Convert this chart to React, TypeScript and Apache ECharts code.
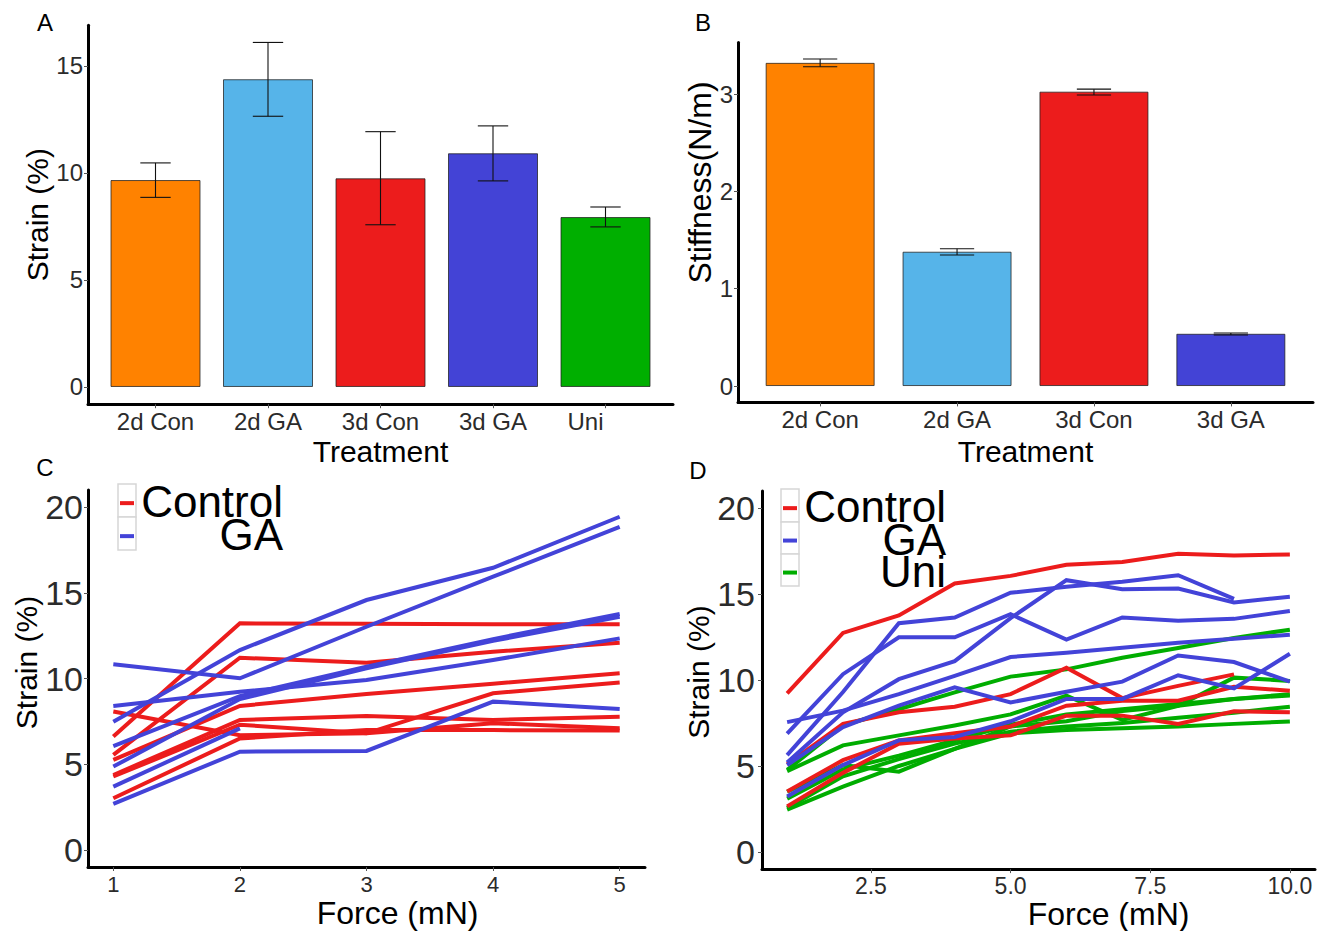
import React, { useEffect, useRef } from "react";
import * as echarts from "echarts";

// ---------- Panel A data ----------
const categoriesA = ["2d Con", "2d GA", "3d Con", "3d GA", "Uni"];
const strainMean = [9.67, 14.38, 9.75, 10.92, 7.94];
const strainLower = [8.86, 12.65, 7.58, 9.63, 7.48];
const strainUpper = [10.47, 16.1, 11.93, 12.2, 8.41];
const strainTicks = [0, 5, 10, 15];

// ---------- Panel B data ----------
const categoriesB = ["2d Con", "2d GA", "3d Con", "3d GA"];
const stiffMean = [3.32, 1.38, 3.024, 0.537];
const stiffLower = [3.28, 1.346, 2.99, 0.524];
const stiffUpper = [3.36, 1.41, 3.05, 0.545];
const stiffTicks = [0, 1, 2, 3];

// ---------- Panel C data ----------
const forceC = [1, 2, 3, 4, 5];
const controlC: (number | null)[][] = [
  [6.61, 13.22, 13.19, 13.16, 13.16],
  [5.54, 11.21, 10.92, 11.56, 12.09],
  [5.25, 8.4, 9.1, 9.7, 10.3],
  [4.37, 7.58, 7.81, 7.58, 7.77],
  [8.07, 6.69, 6.8, 7.39, 7.1],
  [4.28, 7.3, 6.8, 9.14, 9.76],
  [3.01, 6.5, 6.99, 6.99, 6.96],
];
const gaC: (number | null)[][] = [
  [10.83, 10.01, 13.02, 15.94, 18.85],
  [7.48, 11.66, 14.58, 16.46, 19.44],
  [8.4, 9.23, 9.91, 11.08, 12.34],
  [6.06, 8.97, 10.69, 12.3, 13.76],
  [4.86, 8.8, 10.6, 12.2, 13.6],
  [3.69, 7.09, null, null, null],
  [2.68, 5.73, 5.77, 8.65, 8.22],
];
const strainLineTicks = [0, 5, 10, 15, 20];

// ---------- Panel D data ----------
const forceD = [1, 2, 3, 4, 5, 6, 7, 8, 9, 10];
const forceDTicks = [2.5, 5, 7.5, 10];
const controlD: (number | null)[][] = [
  [9.22, 12.74, 13.76, 15.62, 16.06, 16.71, 16.87, 17.35, 17.25, 17.31],
  [5.1, 7.45, 8.13, 8.45, 9.18, 10.72, 8.95, 9.66, 10.33, null],
  [3.52, 5.34, 6.49, 6.9, 7.3, 8.51, 8.8, 8.8, 9.61, 9.38],
  [2.65, 4.6, 6.3, 6.6, 6.78, 7.93, 7.93, 7.45, 8.18, 8.12],
];
const gaD: (number | null)[][] = [
  [5.63, 9.3, 13.31, 13.64, 15.08, 15.43, 15.72, 16.1, 14.72, null],
  [5.2, 8.12, 10.05, 11.1, 13.6, 15.81, 15.29, 15.33, 14.52, 14.85],
  [7.55, 8.22, 9.18, 10.24, 11.34, 11.59, 11.88, 12.17, 12.4, 12.64],
  [5.05, 7.26, 8.51, 9.57, 8.7, 9.32, 9.91, 11.43, 11.05, 9.91],
  [3.23, 5.05, 6.49, 6.69, 7.6, 8.9, 8.9, 10.28, 9.51, 11.53],
  [6.88, 10.34, 12.49, 12.49, 13.83, 12.35, 13.64, 13.45, 13.56, 14.02],
];
const uniD: (number | null)[][] = [
  [4.7, 6.2, 6.78, 7.36, 8.0, 9.09, 7.68, 8.5, 10.14, 9.95],
  [4.77, 7.36, 8.3, 9.28, 10.2, 10.62, 11.3, 11.87, 12.45, 12.93],
  [3.5, 5.05, 4.67, 6.0, 7.3, 7.6, 8.2, 8.5, 8.9, 9.18],
  [3.1, 4.8, 5.6, 6.5, 7.4, 8.0, 8.3, 8.6, 8.9, 9.1],
  [2.55, 4.4, 5.4, 6.3, 7.0, 7.3, 7.5, 7.8, 8.1, 8.45],
  [2.46, 3.8, 5.0, 6.0, 6.9, 7.1, 7.2, 7.3, 7.45, 7.59],
];

// ---------- styling ----------
const FONT = "Liberation Sans, Arial, sans-serif";
const barColors = ["#FF8200", "#56B4E9", "#EC1C1C", "#4343D6", "#00AF00"];
const RED = "#EC1C1C";
const BLUE = "#4343D8";
const GREEN = "#00AD00";
const TEXT = "#2b2b2b";

function makeX(gridIndex: number, min: number, max: number, ticks: number[], fmt: (v: number) => string, fontSize: number, margin: number, name: string, nameGap: number, nameFont: number, namePadLeft = 0, rich: any = undefined) {
  return {
    type: "value",
    gridIndex,
    min,
    max,
    name,
    nameLocation: "middle",
    nameGap,
    nameTextStyle: { fontFamily: FONT, fontSize: nameFont, color: "#000", padding: [0, 0, 0, namePadLeft] },
    axisLine: { show: true, onZero: false, lineStyle: { color: "#000", width: 3 } },
    axisTick: { show: true, length: 4, customValues: ticks, lineStyle: { color: "#555", width: 1 } },
    axisLabel: { customValues: ticks, formatter: fmt, fontFamily: FONT, fontSize, color: TEXT, margin, rich },
    splitLine: { show: false },
  };
}

function makeY(gridIndex: number, min: number, max: number, ticks: number[], fontSize: number, margin: number, name: string, nameGap: number, nameFont: number, shiftUp = 0) {
  return {
    type: "value",
    gridIndex,
    min,
    max,
    name,
    nameLocation: "middle",
    nameGap,
    nameRotate: 90,
    nameTextStyle: { fontFamily: FONT, fontSize: nameFont, color: "#000", padding: [0, 0, 0, shiftUp * 2] },
    axisLine: { show: true, onZero: false, lineStyle: { color: "#000", width: 3 } },
    axisTick: { show: true, length: 4, customValues: ticks, lineStyle: { color: "#555", width: 1 } },
    axisLabel: { customValues: ticks, formatter: (v: number) => String(v), fontFamily: FONT, fontSize, color: TEXT, margin },
    splitLine: { show: false },
  };
}

function errorSeries(xi: number, yi: number, lower: number[], upper: number[], capW: number) {
  return {
    type: "custom",
    xAxisIndex: xi,
    yAxisIndex: yi,
    z: 5,
    encode: { x: 0, y: [1, 2] },
    data: lower.map((lo, i) => [i + 1, lo, upper[i]]),
    renderItem: (params: any, api: any) => {
      const x = api.value(0);
      const pLo = api.coord([x, api.value(1)]);
      const pHi = api.coord([x, api.value(2)]);
      const half = api.size([capW, 0])[0] / 2;
      const st = { stroke: "#111", lineWidth: 1.1 };
      return {
        type: "group",
        children: [
          { type: "line", shape: { x1: pLo[0], y1: pLo[1], x2: pHi[0], y2: pHi[1] }, style: st },
          { type: "line", shape: { x1: pLo[0] - half, y1: pLo[1], x2: pLo[0] + half, y2: pLo[1] }, style: st },
          { type: "line", shape: { x1: pHi[0] - half, y1: pHi[1], x2: pHi[0] + half, y2: pHi[1] }, style: st },
        ],
      };
    },
  };
}

function lineSeries(name: string, xs: number[], ys: (number | null)[], color: string, xi: number, yi: number) {
  const data: number[][] = [];
  ys.forEach((v, i) => {
    if (v !== null) data.push([xs[i], v]);
  });
  return {
    type: "line",
    name,
    xAxisIndex: xi,
    yAxisIndex: yi,
    data,
    showSymbol: false,
    symbol: "none",
    lineStyle: { color, width: 4, cap: "butt", join: "miter" },
    itemStyle: { color },
    emphasis: { disabled: true },
  };
}

function legendGraphic(x: number, rows: { y: number; h: number; color: string; label: string }[], textRight: number) {
  const els: any[] = [];
  rows.forEach((r) => {
    els.push({
      type: "rect",
      shape: { x, y: r.y, width: 18, height: r.h },
      style: { fill: "#fff", stroke: "#d6d6d6", lineWidth: 1.5 },
      z: 50,
    });
    els.push({
      type: "line",
      shape: { x1: x + 2, y1: r.y + r.h * 0.58, x2: x + 16, y2: r.y + r.h * 0.58 },
      style: { stroke: r.color, lineWidth: 4 },
      z: 51,
    });
    els.push({
      type: "text",
      x: textRight,
      y: r.y + r.h / 2 + 1,
      style: { text: r.label, fontFamily: FONT, fontSize: 44, lineHeight: 30, fill: "#000", align: "right", verticalAlign: "middle" },
      z: 52,
    });
  });
  return els;
}

export default function App() {
  const ref = useRef<HTMLDivElement>(null);

  useEffect(() => {
    document.body.style.margin = "0";
    document.body.style.overflow = "hidden";
    if (!ref.current) return;
    const chart = echarts.init(ref.current, undefined, { renderer: "svg" });

    const series: any[] = [];
    // Panel A bars
    series.push({
      type: "bar",
      xAxisIndex: 0,
      yAxisIndex: 0,
      barWidth: 90,
      data: strainMean.map((v, i) => ({
        value: [i + 1, v],
        itemStyle: { color: barColors[i], borderColor: "rgba(30,30,30,0.75)", borderWidth: 1 },
      })),
    });
    series.push(errorSeries(0, 0, strainLower, strainUpper, 0.27));
    // Panel B bars
    series.push({
      type: "bar",
      xAxisIndex: 1,
      yAxisIndex: 1,
      barWidth: 109,
      data: stiffMean.map((v, i) => ({
        value: [i + 1, v],
        itemStyle: { color: barColors[i], borderColor: "rgba(30,30,30,0.75)", borderWidth: 1 },
      })),
    });
    series.push(errorSeries(1, 1, stiffLower, stiffUpper, 0.25));
    // Panel C lines
    controlC.forEach((ys) => series.push(lineSeries("Control", forceC, ys, RED, 2, 2)));
    gaC.forEach((ys) => series.push(lineSeries("GA", forceC, ys, BLUE, 2, 2)));
    // Panel D lines
    uniD.forEach((ys) => series.push(lineSeries("Uni", forceD, ys, GREEN, 3, 3)));
    controlD.forEach((ys) => series.push(lineSeries("Control", forceD, ys, RED, 3, 3)));
    gaD.forEach((ys) => series.push(lineSeries("GA", forceD, ys, BLUE, 3, 3)));

    const catFmtA = (v: number) => {
      const label = categoriesA[Math.round(v) - 1] || "";
      return label === "Uni" ? "{u|" + label + "}" : label;
    };

    const option: any = {
      animation: false,
      backgroundColor: "#fff",
      textStyle: { fontFamily: FONT },
      grid: [
        { left: 88, top: 25.2, width: 585, height: 379 },
        { left: 738, top: 42.6, width: 575, height: 359.8 },
        { left: 88, top: 490, width: 557, height: 377 },
        { left: 762, top: 491, width: 553, height: 382 },
      ],
      xAxis: [
        makeX(0, 0.4, 5.6, [1, 2, 3, 4, 5], catFmtA, 24, 5, "Treatment", 32, 30, 0, {
          u: { fontFamily: FONT, fontSize: 24, color: TEXT, padding: [0, 40, 0, 0] },
        }),
        makeX(1, 0.4, 4.6, [1, 2, 3, 4], (v) => categoriesB[Math.round(v) - 1] || "", 24, 5, "Treatment", 34, 30),
        makeX(2, 0.8, 5.2, forceC, (v) => String(v), 22, 6, "Force (mN)", 30, 32, 62),
        makeX(3, 0.55, 10.45, forceDTicks, (v) => v.toFixed(1), 23, 5, "Force (mN)", 22, 32, 140),
      ],
      yAxis: [
        makeY(0, -0.805, 16.905, strainTicks, 24, 5, "Strain (%)", 30, 30, 0),
        makeY(1, -0.168, 3.528, stiffTicks, 24, 5, "Stiffness(N/m)", 22, 32, 40),
        makeY(2, -1, 21, strainLineTicks, 34, 5, "Strain (%)", 46, 30, 16),
        makeY(3, -1, 21, strainLineTicks, 34, 7, "Strain (%)", 49, 30, 8),
      ],
      series,
      graphic: [
        { type: "text", x: 45, y: 22, style: { text: "A", fontFamily: FONT, fontSize: 24, fill: "#000", align: "center", verticalAlign: "middle" } },
        { type: "text", x: 703, y: 22, style: { text: "B", fontFamily: FONT, fontSize: 24, fill: "#000", align: "center", verticalAlign: "middle" } },
        { type: "text", x: 45, y: 467, style: { text: "C", fontFamily: FONT, fontSize: 24, fill: "#000", align: "center", verticalAlign: "middle" } },
        { type: "text", x: 698, y: 470, style: { text: "D", fontFamily: FONT, fontSize: 24, fill: "#000", align: "center", verticalAlign: "middle" } },
        ...legendGraphic(118, [
          { y: 484, h: 33, color: RED, label: "Control" },
          { y: 517, h: 33, color: BLUE, label: "GA" },
        ], 283),
        ...legendGraphic(781, [
          { y: 489, h: 33, color: RED, label: "Control" },
          { y: 522, h: 32, color: BLUE, label: "GA" },
          { y: 554, h: 32, color: GREEN, label: "Uni" },
        ], 946),
      ],
    };

    chart.setOption(option);
    return () => {
      chart.dispose();
    };
  }, []);

  return <div ref={ref} style={{ width: 1323, height: 931 }} />;
}
